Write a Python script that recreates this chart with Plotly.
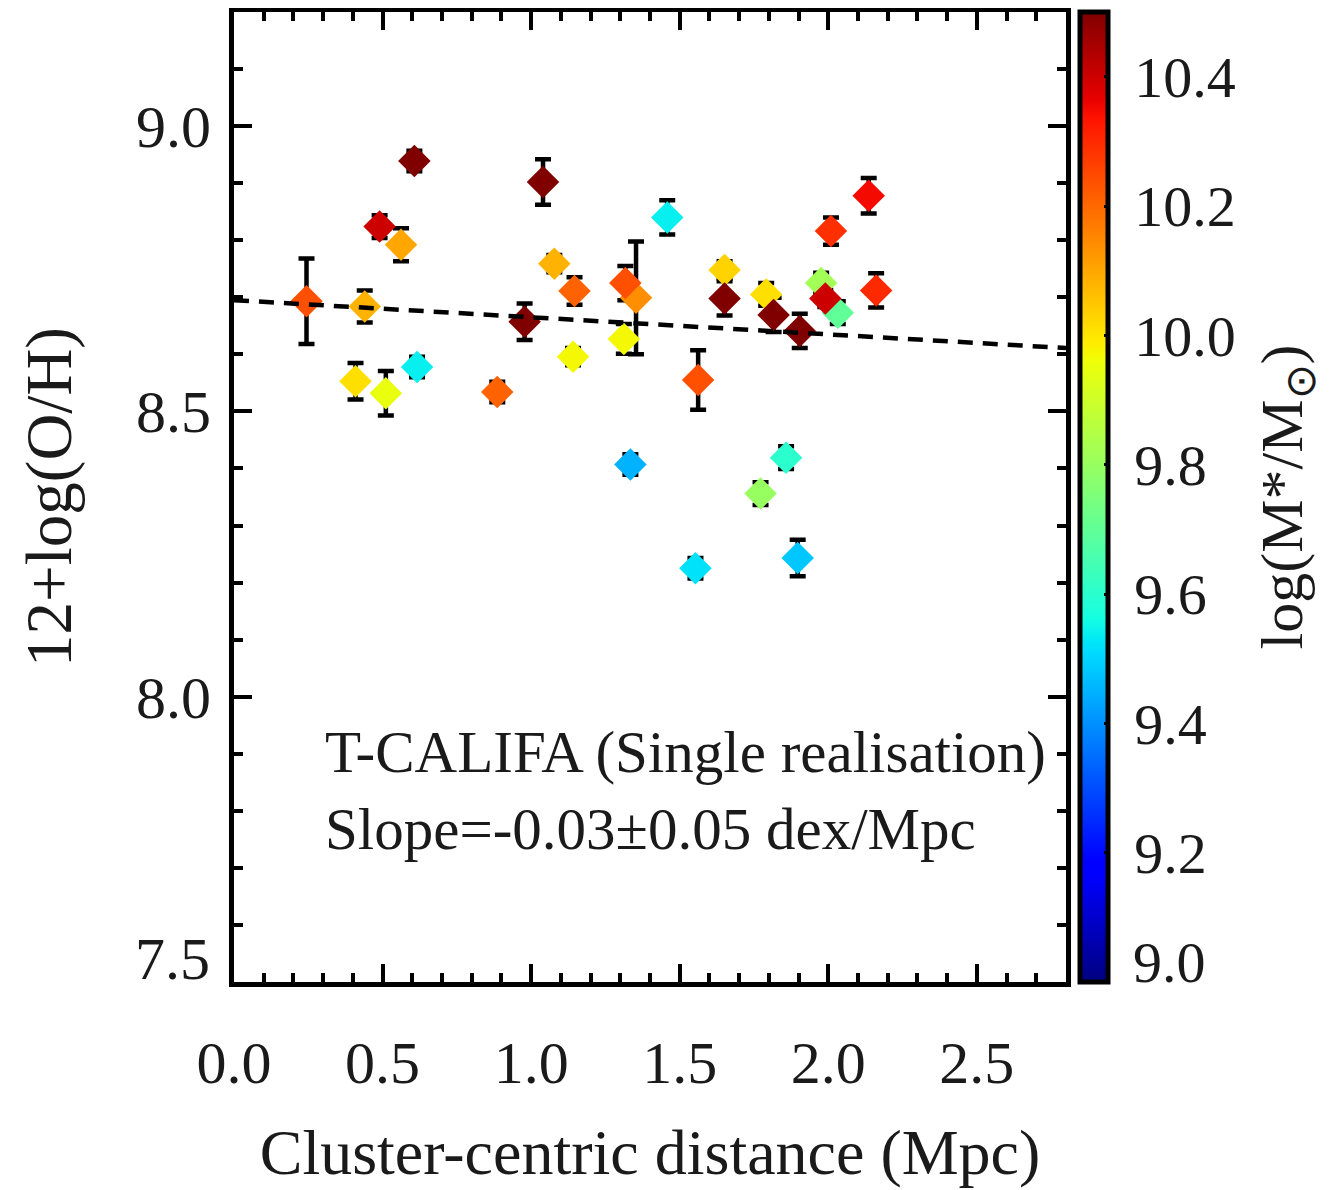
import numpy as np
import plotly.graph_objects as go

# ---------------- data ----------------
distance = [0.244, 0.409, 0.440, 0.490, 0.511, 0.562, 0.607, 0.616, 0.886, 0.978,
            1.040, 1.078, 1.141, 1.146, 1.312, 1.353, 1.317, 1.334, 1.458, 1.553,
            1.562, 1.651, 1.651, 1.772, 1.791, 1.816, 1.858, 1.897, 1.904, 1.976,
            2.032, 1.990, 2.009, 2.136, 2.161]
oh = [8.693, 8.553, 8.684, 8.824, 8.532, 8.792, 8.939, 8.578, 8.534, 8.657,
      8.902, 8.759, 8.596, 8.711, 8.627, 8.699, 8.725, 8.407, 8.840, 8.225,
      8.555, 8.748, 8.698, 8.356, 8.705, 8.669, 8.419, 8.243, 8.641, 8.725,
      8.673, 8.698, 8.816, 8.878, 8.712]
oh_err = [0.075, 0.032, 0.028, 0.020, 0.039, 0.029, 0.018, 0.018, 0.018, 0.032,
          0.040, 0.015, 0.015, 0.024, 0.026, 0.099, 0.030, 0.018, 0.030, 0.018,
          0.052, 0.015, 0.030, 0.020, 0.020, 0.030, 0.020, 0.032, 0.030, 0.018,
          0.020, 0.015, 0.024, 0.031, 0.030]
logmass = [10.24, 10.01, 10.08, 10.40, 9.95, 10.10, 10.50, 9.54, 10.21, 10.50,
           10.50, 10.08, 9.97, 10.21, 9.97, 10.14, 10.24, 9.45, 9.54, 9.52,
           10.24, 10.03, 10.50, 9.80, 10.01, 10.50, 9.60, 9.48, 10.50, 9.82,
           9.70, 10.40, 10.29, 10.35, 10.30]

fit_intercept = 8.695
fit_slope = -0.03
fit_x = [0.0, 2.8]

x_ticks = [0.0, 0.5, 1.0, 1.5, 2.0, 2.5]
x_ticklabels = ["0.0", "0.5", "1.0", "1.5", "2.0", "2.5"]
y_ticks = [8.0, 8.5, 9.0]
y_ticklabels = ["8.0", "8.5", "9.0"]
y_bottom_tick = 7.5
y_bottom_label = "7.5"          # drawn lifted above the corner, as in the reference
cb_ticks = [9.2, 9.4, 9.6, 9.8, 10.0, 10.2, 10.4]
cb_ticklabels = ["9.2", "9.4", "9.6", "9.8", "10.0", "10.2", "10.4"]
cb_bottom_label = "9.0"         # drawn lifted above the bar's bottom, as in the reference

# ---------------- jet colour scale ----------------
pos = [0, 0.11, 0.125, 0.34, 0.35, 0.375, 0.64, 0.65, 0.66, 0.89, 0.91, 1.0]
def jet(p):
    r = np.interp(p, [0, 0.35, 0.66, 0.89, 1], [0, 0, 1, 1, 0.5])
    g = np.interp(p, [0, 0.125, 0.375, 0.64, 0.91, 1], [0, 0, 1, 1, 0, 0])
    b = np.interp(p, [0, 0.11, 0.34, 0.65, 1], [0.5, 1, 1, 0, 0])
    return "rgb(%d,%d,%d)" % (round(r * 255), round(g * 255), round(b * 255))
jet_scale = [[p, jet(p)] for p in pos]

FONT = "Liberation Serif, Times New Roman, serif"
TXT = "#1a1a1a"
THIN = "\u2009"
cb_display = [THIN + t + THIN for t in cb_ticklabels]

fig = go.Figure()

fig.add_trace(go.Scatter(
    x=distance, y=oh, mode="markers",
    error_y=dict(type="data", array=oh_err, visible=True, color="black",
                 thickness=4.5, width=8),
    marker=dict(symbol="diamond", size=25, color=logmass, colorscale=jet_scale,
                cmin=9.0, cmax=10.5, line=dict(width=0),
                colorbar=dict(
                    x=1.0172, xanchor="left", xpad=0, ypad=0,
                    y=0.5, yanchor="middle", len=1, lenmode="fraction",
                    thickness=28, outlinewidth=5, outlinecolor="black",
                    tickmode="array", tickvals=cb_ticks, ticktext=cb_display,
                    ticks="inside", ticklen=6, tickwidth=3, tickcolor="black",
                    tickfont=dict(family=FONT, size=58, color=TXT),
                    title=dict(text="log(M*/M<sub>⊙</sub>)", side="right",
                               font=dict(family=FONT, size=60, color=TXT)),
                )),
    showlegend=False, hoverinfo="x+y",
))

fit_y = [fit_intercept + fit_slope * v for v in fit_x]
fig.add_trace(go.Scatter(
    x=fit_x, y=fit_y, mode="lines",
    line=dict(color="black", width=4.5, dash="15px,10px"),
    showlegend=False, hoverinfo="skip",
))

axis_common = dict(
    showline=True, linewidth=5, linecolor="black", mirror="allticks",
    ticks="inside", tickwidth=4, tickcolor="black",
    showgrid=False, zeroline=False, automargin=False,
    tickfont=dict(family=FONT, size=60, color=TXT),
)

fig.update_xaxes(
    range=[0, 2.8], tickmode="array", tickvals=x_ticks, ticktext=x_ticklabels,
    ticklen=18, ticklabelstandoff=24,
    minor=dict(dtick=0.1, tick0=0, ticks="inside", ticklen=9, tickwidth=4,
               tickcolor="black", showgrid=False),
    title=dict(text="Cluster-centric distance (Mpc)", standoff=36,
               font=dict(family=FONT, size=64, color=TXT)),
    **axis_common,
)
fig.update_yaxes(
    range=[y_bottom_tick, 9.2], tickmode="array", tickvals=y_ticks, ticktext=y_ticklabels,
    ticklen=18, ticklabelstandoff=6,
    minor=dict(dtick=0.1, tick0=y_bottom_tick, ticks="inside", ticklen=9, tickwidth=4,
               tickcolor="black", showgrid=False),
    title=dict(text="12+log(O/H)", standoff=45,
               font=dict(family=FONT, size=65, color=TXT)),
    **axis_common,
)

# lifted bottom labels (IDL style)
fig.add_annotation(x=-0.0264, y=y_bottom_tick + 0.040, xref="paper", yref="y",
                   xanchor="right", yanchor="middle", showarrow=False,
                   text=y_bottom_label, font=dict(family=FONT, size=60, color=TXT))
fig.add_annotation(x=1.0781, y=0.0196, xref="paper", yref="paper", xanchor="left",
                   yanchor="middle", showarrow=False, text=cb_bottom_label,
                   font=dict(family=FONT, size=58, color=TXT))

fig.add_annotation(x=0.298, y=7.903, xref="x", yref="y", xanchor="left",
                   yanchor="middle", showarrow=False,
                   text="T-CALIFA (Single realisation)",
                   font=dict(family=FONT, size=59, color=TXT))
fig.add_annotation(x=0.298, y=7.769, xref="x", yref="y", xanchor="left",
                   yanchor="middle", showarrow=False,
                   text="Slope=-0.03±0.05 dex/Mpc",
                   font=dict(family=FONT, size=59, color=TXT))

fig.update_layout(
    width=1332, height=1190,
    margin=dict(l=226, r=274, t=4, b=216, pad=0, autoexpand=False),
    paper_bgcolor="white", plot_bgcolor="white",
    font=dict(family=FONT, color=TXT),
)

fig.write_html("out.html")
